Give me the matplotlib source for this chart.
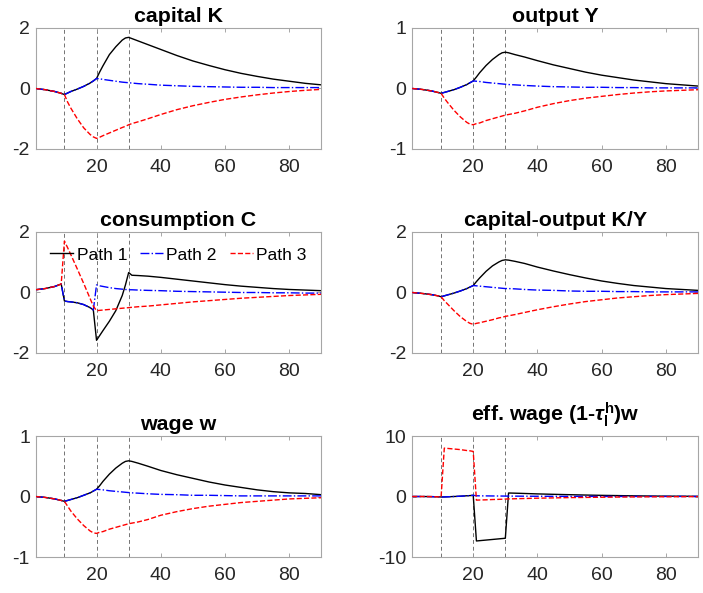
import matplotlib
matplotlib.use("Agg")
import matplotlib.pyplot as plt

plt.rcParams["font.family"] = ["Liberation Sans", "DejaVu Sans"]
plt.rcParams["axes.unicode_minus"] = False
plt.rcParams["mathtext.fontset"] = "custom"
plt.rcParams["mathtext.rm"] = "Liberation Sans"
plt.rcParams["mathtext.it"] = "Liberation Sans:italic:bold"
plt.rcParams["mathtext.bf"] = "Liberation Sans:bold"

t = [1, 4, 7, 9, 10, 11, 12, 14, 16, 18, 19, 20, 21, 22, 24, 26, 28, 29, 30,
     31, 33, 36, 40, 45, 50, 55, 60, 65, 70, 75, 80, 85, 90]

k_p1 = [0.0, -0.04, -0.10, -0.16, -0.20, -0.15, -0.10, -0.02, 0.07, 0.18, 0.25, 0.33, 0.55, 0.75, 1.12, 1.38, 1.60,
        1.67, 1.69, 1.65, 1.57, 1.45, 1.29, 1.09, 0.91, 0.76, 0.62, 0.50, 0.40, 0.31, 0.24, 0.17, 0.12]
k_p2 = [0.0, -0.04, -0.10, -0.16, -0.20, -0.15, -0.10, -0.02, 0.07, 0.18, 0.25, 0.33, 0.32, 0.30, 0.27, 0.24, 0.21,
        0.20, 0.19, 0.18, 0.16, 0.14, 0.11, 0.09, 0.07, 0.06, 0.05, 0.04, 0.04, 0.03, 0.03, 0.03, 0.03]
k_p3 = [0.0, -0.04, -0.10, -0.16, -0.20, -0.45, -0.65, -1.00, -1.30, -1.52, -1.60, -1.65, -1.61, -1.56, -1.47, -1.38,
        -1.29, -1.25, -1.20, -1.16, -1.10, -1.00, -0.86, -0.70, -0.57, -0.46, -0.36, -0.28, -0.21, -0.15, -0.10,
        -0.06, -0.03]

y_p1 = [0.0, -0.015, -0.04, -0.065, -0.08, -0.065, -0.05, -0.02, 0.02, 0.065, 0.095, 0.125, 0.19, 0.26, 0.38, 0.48,
        0.56, 0.59, 0.60, 0.59, 0.56, 0.52, 0.46, 0.39, 0.33, 0.27, 0.22, 0.18, 0.14, 0.11, 0.08, 0.06, 0.04]
y_p2 = [0.0, -0.015, -0.04, -0.065, -0.08, -0.065, -0.05, -0.02, 0.02, 0.065, 0.095, 0.125, 0.12, 0.115, 0.10,
        0.09, 0.08, 0.075, 0.07, 0.065, 0.06, 0.05, 0.04, 0.03, 0.025, 0.02, 0.02, 0.015, 0.015, 0.01, 0.01, 0.01,
        0.01]
y_p3 = [0.0, -0.015, -0.04, -0.065, -0.08, -0.16, -0.23, -0.36, -0.47, -0.56, -0.59, -0.60, -0.58, -0.57, -0.53,
        -0.50, -0.47, -0.455, -0.44, -0.43, -0.41, -0.37, -0.31, -0.25, -0.20, -0.16, -0.13, -0.10, -0.075, -0.055,
        -0.04, -0.03, -0.02]

c_p1 = [0.09, 0.13, 0.20, 0.28, -0.28, -0.30, -0.31, -0.34, -0.40, -0.50, -0.58, -1.58, -1.42, -1.26, -0.95, -0.60,
        -0.10, 0.25, 0.66, 0.57, 0.56, 0.54, 0.50, 0.44, 0.38, 0.32, 0.26, 0.21, 0.17, 0.13, 0.10, 0.08, 0.06]
c_p2 = [0.09, 0.13, 0.20, 0.28, -0.28, -0.30, -0.31, -0.34, -0.40, -0.50, -0.58, 0.25, 0.22, 0.20, 0.16, 0.13, 0.11,
        0.10, 0.09, 0.09, 0.08, 0.07, 0.06, 0.04, 0.03, 0.02, 0.01, 0.0, 0.0, -0.01, -0.01, -0.02, -0.02]
c_p3 = [0.09, 0.13, 0.20, 0.28, 1.70, 1.48, 1.25, 0.78, 0.30, -0.20, -0.45, -0.60, -0.59, -0.58, -0.56, -0.54,
        -0.52, -0.51, -0.50, -0.49, -0.47, -0.45, -0.41, -0.36, -0.31, -0.27, -0.23, -0.19, -0.16, -0.13, -0.10,
        -0.08, -0.06]

ky_p1 = [0.0, -0.03, -0.07, -0.11, -0.14, -0.11, -0.08, -0.02, 0.05, 0.13, 0.18, 0.23, 0.36, 0.48, 0.70, 0.88,
         1.01, 1.06, 1.08, 1.07, 1.03, 0.96, 0.84, 0.71, 0.59, 0.48, 0.38, 0.30, 0.23, 0.18, 0.13, 0.10, 0.07]
ky_p2 = [0.0, -0.03, -0.07, -0.11, -0.14, -0.11, -0.08, -0.02, 0.05, 0.13, 0.18, 0.23, 0.22, 0.21, 0.19, 0.17,
         0.15, 0.14, 0.13, 0.13, 0.12, 0.10, 0.08, 0.07, 0.05, 0.04, 0.04, 0.03, 0.03, 0.02, 0.02, 0.02, 0.02]
ky_p3 = [0.0, -0.03, -0.07, -0.11, -0.14, -0.27, -0.38, -0.60, -0.80, -0.96, -1.02, -1.05, -1.02, -1.00, -0.95,
         -0.90, -0.84, -0.82, -0.79, -0.77, -0.73, -0.66, -0.57, -0.47, -0.38, -0.30, -0.24, -0.18, -0.14, -0.10,
         -0.07, -0.05, -0.03]

w_p1 = [0.0, -0.015, -0.04, -0.065, -0.08, -0.065, -0.05, -0.02, 0.02, 0.06, 0.09, 0.12, 0.18, 0.25, 0.37, 0.47,
        0.55, 0.58, 0.59, 0.58, 0.55, 0.50, 0.43, 0.36, 0.30, 0.24, 0.19, 0.15, 0.11, 0.08, 0.06, 0.05, 0.03]
w_p2 = [0.0, -0.015, -0.04, -0.065, -0.08, -0.065, -0.05, -0.02, 0.02, 0.06, 0.09, 0.12, 0.115, 0.11, 0.095,
        0.085, 0.075, 0.07, 0.065, 0.06, 0.055, 0.045, 0.035, 0.03, 0.02, 0.02, 0.015, 0.01, 0.01, 0.01, 0.01, 0.01,
        0.01]
w_p3 = [0.0, -0.015, -0.04, -0.065, -0.08, -0.16, -0.24, -0.37, -0.48, -0.57, -0.60, -0.61, -0.59, -0.58, -0.54,
        -0.51, -0.48, -0.465, -0.45, -0.44, -0.42, -0.38, -0.31, -0.25, -0.20, -0.16, -0.13, -0.10, -0.08, -0.06,
        -0.04, -0.03, -0.02]

e_p1 = [0.0, 0.0, -0.02, -0.05, -0.08, -0.07, -0.05, 0.0, 0.05, 0.12, 0.15, 0.20, -7.35, -7.30, -7.20, -7.10, -7.00,
        -6.95, -6.90, 0.58, 0.55, 0.50, 0.43, 0.36, 0.30, 0.24, 0.19, 0.15, 0.11, 0.08, 0.06, 0.05, 0.03]
e_p2 = [0.0, 0.0, -0.02, -0.05, -0.08, -0.07, -0.05, 0.0, 0.05, 0.12, 0.15, 0.20, 0.12, 0.11, 0.10, 0.09, 0.08,
        0.075, 0.07, 0.065, 0.06, 0.05, 0.04, 0.03, 0.02, 0.02, 0.015, 0.01, 0.01, 0.01, 0.01, 0.01, 0.01]
e_p3 = [0.0, 0.0, -0.02, -0.05, -0.08, 8.00, 7.95, 7.85, 7.75, 7.60, 7.55, 7.45, -0.60, -0.58, -0.55, -0.50, -0.47,
        -0.45, -0.42, -0.40, -0.37, -0.33, -0.28, -0.23, -0.18, -0.15, -0.12, -0.09, -0.07, -0.05, -0.04, -0.03,
        -0.02]

panels = [
    ("capital K", k_p1, k_p2, k_p3, 2),
    ("output Y", y_p1, y_p2, y_p3, 1),
    ("consumption C", c_p1, c_p2, c_p3, 2),
    ("capital-output K/Y", ky_p1, ky_p2, ky_p3, 2),
    ("wage w", w_p1, w_p2, w_p3, 1),
    (r"eff. wage (1-$\tau^{\mathbf{h}}_{\mathbf{l}}$)w", e_p1, e_p2, e_p3, 10),
]
policy_dates = [10, 20, 30]

fig, axes = plt.subplots(3, 2, figsize=(7.03, 5.93), dpi=100)
fig.subplots_adjust(left=0.0505, right=0.993, top=0.9528, bottom=0.0607, wspace=0.3175, hspace=0.686)

for ax, (title, p1, p2, p3, lim) in zip(axes.flat, panels):
    for d in policy_dates:
        ax.axvline(d, color="0.45", ls=(0, (4, 3)), lw=0.7, zorder=1)
    ax.plot(t, p1, color="k", lw=1.0, label="Path 1", zorder=2)
    ax.plot(t, p2, color="b", ls="-.", lw=1.0, label="Path 2", zorder=3)
    ax.plot(t, p3, color="r", ls="--", lw=1.0, label="Path 3", zorder=4)
    ax.set_xlim(1, 90)
    ax.set_ylim(-lim, lim)
    ax.set_xticks([20, 40, 60, 80])
    ax.set_yticks([-lim, 0, lim])
    ax.tick_params(direction="in", length=3, width=0.6, color="0.6", labelcolor="0.15",
                   labelsize=14, top=True, right=True)
    ax.tick_params(axis="x", pad=7)
    ax.tick_params(axis="y", pad=4)
    for s in ax.spines.values():
        s.set_color("0.65")
        s.set_linewidth(0.8)
    pad = 11 if "tau" in title else 4.3
    ax.set_title(title, fontsize=15.4, fontweight="bold", pad=pad)

axes[1, 0].legend(loc="center", bbox_to_anchor=(0.5, 0.81), ncol=3, frameon=False, fontsize=12.6,
                  handlelength=1.3, handletextpad=0.2, columnspacing=0.75, borderpad=0.2)

fig.savefig("out.png", dpi=100)
